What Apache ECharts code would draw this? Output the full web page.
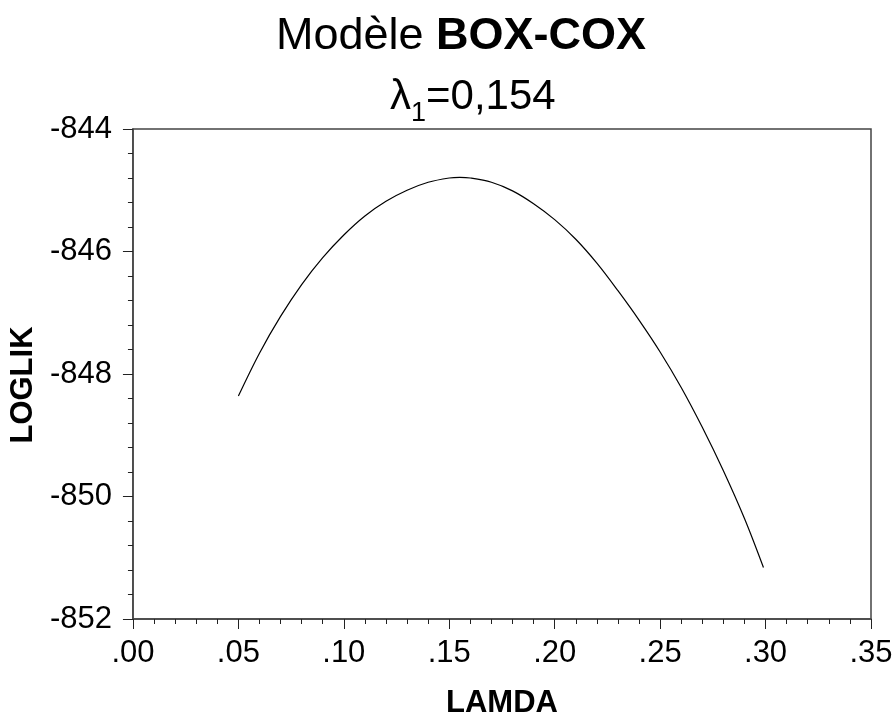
<!DOCTYPE html>
<html>
<head>
<meta charset="utf-8">
<script src="https://cdn.jsdelivr.net/npm/echarts@6/dist/echarts.min.js"></script>
<style>
html,body{margin:0;padding:0;background:#fff;}
#chart{width:896px;height:724px;}
</style>
</head>
<body>
<div id="chart"></div>
<script>
// Data
const lamda = [0.05,0.06,0.07,0.08,0.09,0.10,0.11,0.12,0.13,0.14,0.15,0.155,0.16,0.17,0.18,0.19,0.20,0.21,0.22,0.23,0.24,0.25,0.26,0.27,0.28,0.29,0.299];
const loglik = [-848.36,-847.66,-847.06,-846.54,-846.10,-845.73,-845.42,-845.18,-845.00,-844.87,-844.80,-844.79,-844.80,-844.87,-845.01,-845.22,-845.48,-845.80,-846.19,-846.64,-847.12,-847.64,-848.22,-848.87,-849.58,-850.36,-851.16];
const titleMain = 'Modèle ';
const titleBold = 'BOX-COX';
const subtitleParts = ['λ', '1', '=0,154'];
const xName = 'LAMDA';
const yName = 'LOGLIK';

const FONT = "'Liberation Sans', Arial, sans-serif";
const chart = echarts.init(document.getElementById('chart'), null, {renderer: 'canvas'});
chart.setOption({
  animation: false,
  backgroundColor: '#ffffff',
  title: [{
    text: '{a|' + titleMain + '}{b|' + titleBold + '}',
    left: 271,
    top: 9,
    textStyle: {
      rich: {
        a: {fontFamily: FONT, fontSize: 45, color: '#000', fontWeight: 'normal'},
        b: {fontFamily: FONT, fontSize: 45, color: '#000', fontWeight: 'bold'}
      }
    }
  }, {
    text: '{l|' + subtitleParts[0] + '}{s|' + subtitleParts[1] + '}{n|' + subtitleParts[2] + '}',
    left: 385,
    top: 71,
    textStyle: {
      fontWeight: 'normal',
      rich: {
        l: {fontFamily: FONT, fontSize: 42, color: '#000', fontWeight: 'normal', lineHeight: 46, verticalAlign: 'top'},
        s: {fontFamily: FONT, fontSize: 27, color: '#000', fontWeight: 'normal', lineHeight: 27, padding: [24, 0, 0, 0], verticalAlign: 'top'},
        n: {fontFamily: FONT, fontSize: 42, color: '#000', fontWeight: 'normal', lineHeight: 46, verticalAlign: 'top'}
      }
    }
  }],
  grid: {
    left: 127, right: 25, top: 129, bottom: 104,
    show: true, borderColor: '#444', borderWidth: 1.5, backgroundColor: 'transparent'
  },
  xAxis: {
    type: 'value', min: 0, max: 0.35, interval: 0.05,
    name: xName, nameLocation: 'middle', nameGap: 69,
    nameTextStyle: {fontFamily: FONT, fontSize: 31, fontWeight: 'bold', color: '#000'},
    axisLine: {show: true, onZero: false, lineStyle: {color: '#444', width: 1.5}},
    axisTick: {show: true, inside: false, length: 10, lineStyle: {color: '#222', width: 1}},
    minorTick: {show: true, splitNumber: 5, length: 5, lineStyle: {color: '#222', width: 1}},
    splitLine: {show: false},
    axisLabel: {
      fontFamily: FONT, fontSize: 31, color: '#000', margin: 19,
      formatter: v => v.toFixed(2).replace(/^0/, '')
    }
  },
  yAxis: {
    type: 'value', min: -852, max: -844, interval: 2,
    name: yName, nameLocation: 'middle', nameGap: 84, nameRotate: 90,
    nameTextStyle: {fontFamily: FONT, fontSize: 31, fontWeight: 'bold', color: '#000', padding: [0, 22, 0, 0]},
    axisLine: {show: true, onZero: false, lineStyle: {color: '#444', width: 1.5}},
    axisTick: {show: true, inside: false, length: 10, lineStyle: {color: '#222', width: 1}},
    minorTick: {show: true, splitNumber: 5, length: 5, lineStyle: {color: '#222', width: 1}},
    splitLine: {show: false},
    axisLabel: {
      fontFamily: FONT, fontSize: 31, color: '#000', margin: 21,
      padding: [18, 0, 0, 0]
    }
  },
  series: [{
    type: 'line',
    data: lamda.map((x, i) => [x, loglik[i]]),
    smooth: 0.35,
    showSymbol: false,
    lineStyle: {color: '#000', width: 1.2}
  }]
});
</script>
</body>
</html>
